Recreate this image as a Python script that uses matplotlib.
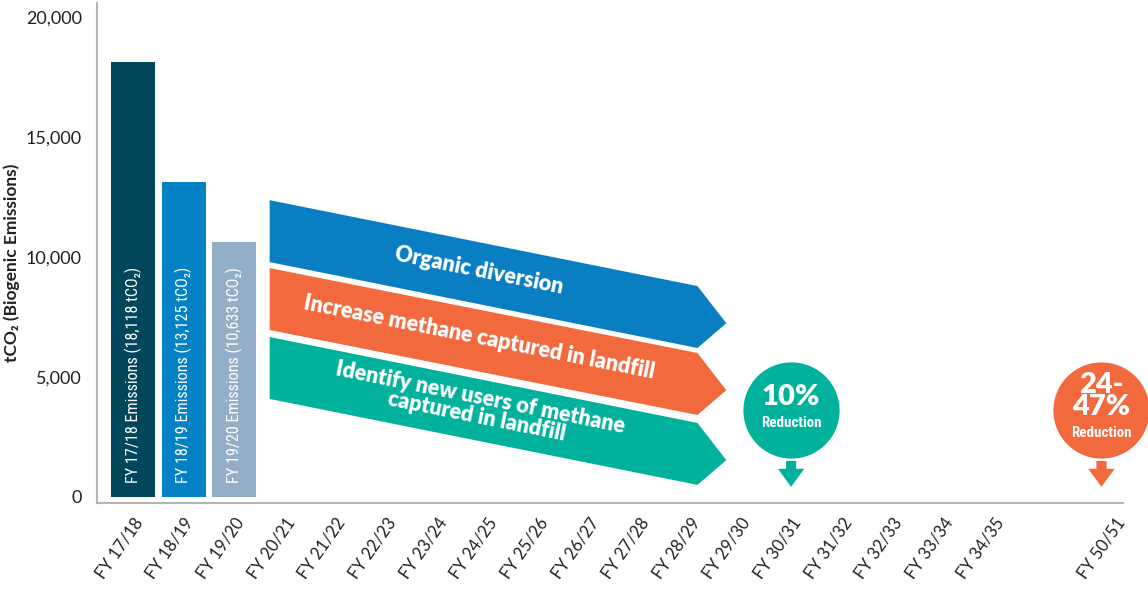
import numpy as np
import matplotlib
matplotlib.use("Agg")
import matplotlib.pyplot as plt
from matplotlib import font_manager
from matplotlib.patches import Polygon

# emissions by financial year
years = ["FY 17/18", "FY 18/19", "FY 19/20", "FY 20/21", "FY 21/22", "FY 22/23",
         "FY 23/24", "FY 24/25", "FY 25/26", "FY 26/27", "FY 27/28", "FY 28/29",
         "FY 29/30", "FY 30/31", "FY 31/32", "FY 32/33", "FY 33/34", "FY 34/35",
         "FY 50/51"]
bar_years = ["FY 17/18", "FY 18/19", "FY 19/20"]
emissions = [18118, 13125, 10633]
bar_colors = ["#00475c", "#0281c4", "#93aec7"]

# reduction pathways (start / end level of the top edge)
pathways = ["Organic diversion",
            "Increase methane captured in landfill",
            "Identify new users of methane\ncaptured in landfill"]
path_start = [12375, 9542, 6667]
path_end = [8792, 6000, 3083]
path_colors = ["#0a7ec3", "#f1693c", "#00b29c"]

# targets
targets = ["FY 30/31", "FY 50/51"]
target_text = ["10%", "24-\n47%"]
target_colors = ["#00b29c", "#f1693c"]

names = {f.name for f in font_manager.fontManager.ttflist}
def pick(*fams):
    for f in fams:
        if f in names:
            return f
    return "DejaVu Sans"

main_font = pick("Lato", "Open Sans", "DejaVu Sans")
narrow = pick("Liberation Sans Narrow", "Roboto Condensed", "Roboto", "DejaVu Sans")
plt.rcParams["font.family"] = [main_font, "DejaVu Sans"]

# x positions: FY 50/51 sits after a gap
xpos = list(np.arange(18, dtype=float)) + [19.4]
xmap = dict(zip(years, xpos))

fig = plt.figure(figsize=(11.48, 5.93), dpi=100)
ax = fig.add_axes([0.0845, 0.152, 0.8935, 0.843])
ax.set_xlim(-0.71, 19.55)
ax.set_ylim(-250, 20600)

bx = [xmap[y] for y in bar_years]
ax.bar(bx, emissions, width=0.87, color=bar_colors, zorder=2)
for x, y, v in zip(bx, bar_years, emissions):
    ax.text(x, 560, f"{y} Emissions ({v:,} tCO₂)", rotation=90, ha="center",
            va="bottom", color="white", fontsize=11.6,
            family=[narrow, "DejaVu Sans"], zorder=3)

# chevrons
x0, x1, xtip = 2.7, 11.15, 11.72
band = 2583
for i, (lab, ys, ye, c) in enumerate(zip(pathways, path_start, path_end, path_colors)):
    pts = [(x0, ys), (x1, ye), (xtip, ye - band * 0.6), (x1, ye - band), (x0, ys - band)]
    ax.add_patch(Polygon(pts, closed=True, facecolor=c, edgecolor="none", zorder=2))
    p0 = ax.transData.transform((x0, ys))
    p1 = ax.transData.transform((x1, ye))
    ang = np.degrees(np.arctan2(p1[1] - p0[1], p1[0] - p0[0]))
    xm = 6.83
    ym = ys + (ye - ys) * (xm - x0) / (x1 - x0) - band / 2 + 120
    ax.text(xm, ym, lab, rotation=ang, rotation_mode="anchor", ha="center",
            va="center", color="white", fontsize=15.5, fontweight="heavy",
            linespacing=0.95, zorder=3)

# target circles with arrows
for t, txt, c in zip(targets, target_text, target_colors):
    x = xmap[t] if t != "FY 50/51" else xmap[t] - 0.27
    ax.scatter([x], [3625], s=4800, color=c, zorder=3, linewidths=0, clip_on=False)
    if "\n" in txt:
        ax.text(x, 4200, txt, ha="center", va="center", color="white",
                fontsize=21, fontweight="heavy", linespacing=0.8, zorder=4)
        ax.text(x, 2650, "Reduction", ha="center", va="center", color="white",
                fontsize=10.8, fontweight="bold", family=[narrow, "DejaVu Sans"], zorder=4)
    else:
        ax.text(x, 4150, txt, ha="center", va="center", color="white",
                fontsize=21, fontweight="heavy", zorder=4)
        ax.text(x, 3100, "Reduction", ha="center", va="center", color="white",
                fontsize=10.8, fontweight="bold", family=[narrow, "DejaVu Sans"], zorder=4)
    ax.arrow(x, 1500, 0, -1080, width=0.2, head_width=0.52, head_length=750,
             length_includes_head=True, color=c, linewidth=0, zorder=3)

ax.set_xticks(xpos)
ax.set_xticklabels(years, rotation=55, ha="right", rotation_mode="anchor",
                   fontsize=12, color="#231f20")
ax.set_yticks([0, 5000, 10000, 15000, 20000])
ax.set_yticklabels(["0", "5,000", "10,000", "15,000", "20,000"], fontsize=13,
                   color="#231f20")
ax.tick_params(axis="both", length=0)
ax.tick_params(axis="y", pad=11)
ax.tick_params(axis="x", pad=9)
ax.set_ylabel("tCO₂ (Biogenic Emissions)", fontsize=12.5, fontweight="bold",
              color="#231f20", va="center")
ax.yaxis.set_label_coords(-0.083, 0.48)

for s in ["top", "right"]:
    ax.spines[s].set_visible(False)
for s in ["left", "bottom"]:
    ax.spines[s].set_color("#b3b5b8")
    ax.spines[s].set_linewidth(1.5)

fig.savefig("out.png", dpi=100)
